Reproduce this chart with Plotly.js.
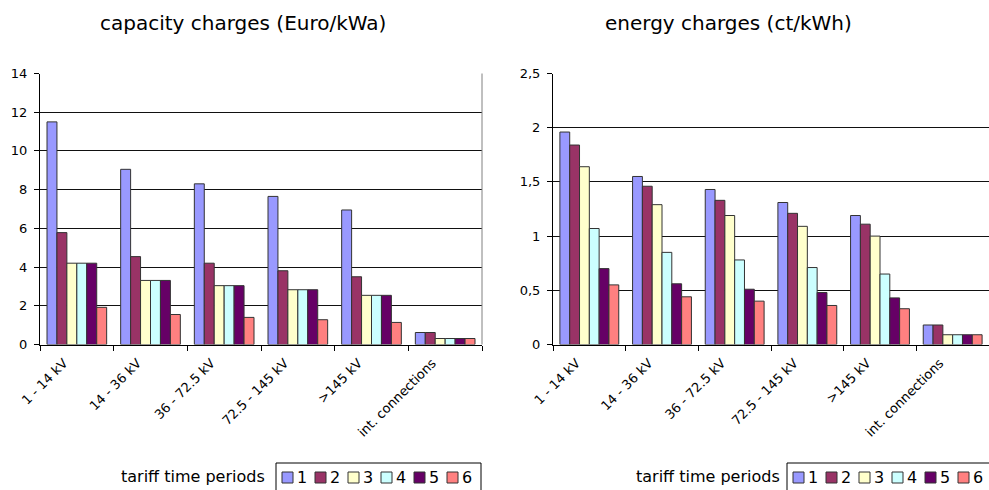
<!DOCTYPE html>
<html>
<head>
<meta charset="utf-8">
<script src="https://cdn.plot.ly/plotly-3.0.1.min.js"></script>
<style>
  html, body { margin: 0; padding: 0; background: #fff; }
  #chart { width: 989px; height: 490px; }
</style>
</head>
<body>
<div id="chart"></div>
<script>
// Voltage levels on the category axis
const categories = ['1 - 14 kV', '14 - 36 kV', '36 - 72.5 kV', '72.5 - 145 kV', '>145 kV', 'int. connections'];

// Tariff time periods (one bar series each)
const periods = ['1', '2', '3', '4', '5', '6'];
const periodColors = ['#9999FF', '#993366', '#FFFFCC', '#CCFFFF', '#660066', '#FF8080'];

// Capacity charges (Euro/kWa) per period, across voltage levels
const capacity1 = [11.5, 9.05, 8.3, 7.65, 6.95, 0.62];
const capacity2 = [5.78, 4.54, 4.2, 3.81, 3.5, 0.62];
const capacity3 = [4.2, 3.31, 3.04, 2.83, 2.54, 0.31];
const capacity4 = [4.2, 3.31, 3.04, 2.83, 2.54, 0.31];
const capacity5 = [4.2, 3.31, 3.04, 2.83, 2.54, 0.31];
const capacity6 = [1.92, 1.55, 1.4, 1.28, 1.14, 0.31];

// Energy charges (ct/kWh) per period, across voltage levels
const energy1 = [1.96, 1.55, 1.43, 1.31, 1.19, 0.18];
const energy2 = [1.84, 1.46, 1.33, 1.21, 1.11, 0.18];
const energy3 = [1.64, 1.29, 1.19, 1.09, 1.0, 0.09];
const energy4 = [1.07, 0.85, 0.78, 0.71, 0.65, 0.09];
const energy5 = [0.70, 0.56, 0.51, 0.48, 0.43, 0.09];
const energy6 = [0.55, 0.44, 0.40, 0.36, 0.33, 0.09];

const capacitySeries = [capacity1, capacity2, capacity3, capacity4, capacity5, capacity6];
const energySeries = [energy1, energy2, energy3, energy4, energy5, energy6];

// Page geometry helpers (pixels -> paper fractions)
const W = 989, H = 490;
const px = x => x / W;
const py = y => 1 - y / H;

const FONT = 'DejaVu Sans, Arial, sans-serif';

const traces = [];
periods.forEach((p, i) => {
  traces.push({
    type: 'bar', name: p, x: categories, y: capacitySeries[i],
    xaxis: 'x', yaxis: 'y', showlegend: false,
    marker: { color: periodColors[i], line: { color: '#333333', width: 1 } },
    hoverinfo: 'x+y+name'
  });
});
periods.forEach((p, i) => {
  traces.push({
    type: 'bar', name: p, x: categories, y: energySeries[i],
    xaxis: 'x2', yaxis: 'y2', showlegend: false,
    marker: { color: periodColors[i], line: { color: '#333333', width: 1 } },
    hoverinfo: 'x+y+name'
  });
});

const yDomain = [py(344.5), py(73.5)];

const xCommon = {
  type: 'category',
  showline: true, linecolor: '#000', linewidth: 1,
  ticks: 'outside', ticklen: 5, tickcolor: '#000', tickson: 'boundaries',
  tickangle: -45, ticklabelshift: -13, ticklabelstandoff: 5,
  tickfont: { family: FONT, size: 13, color: '#000' },
  showgrid: false, zeroline: false, fixedrange: true
};
const yCommon = {
  showline: true, linecolor: '#000', linewidth: 1,
  ticks: 'outside', ticklen: 5, tickcolor: '#000', ticklabelstandoff: 4,
  tickfont: { family: FONT, size: 13, color: '#000' },
  showgrid: true, gridcolor: '#111', gridwidth: 1,
  zeroline: false, fixedrange: true, domain: yDomain
};

const shapes = [];
const annotations = [];

// Right-hand border of the left plot area
shapes.push({
  type: 'line', xref: 'x domain', yref: 'y domain',
  x0: 1, x1: 1, y0: 0, y1: 1,
  line: { color: '#808080', width: 1 }
});

// Chart titles
annotations.push({
  text: 'capacity charges (Euro/kWa)', xref: 'paper', yref: 'paper',
  x: px(243), y: py(23), xanchor: 'center', yanchor: 'middle', showarrow: false,
  font: { family: FONT, size: 20, color: '#000' }
});
annotations.push({
  text: 'energy charges (ct/kWh)', xref: 'paper', yref: 'paper',
  x: px(728), y: py(23), xanchor: 'center', yanchor: 'middle', showarrow: false,
  font: { family: FONT, size: 20, color: '#000' }
});

// Legend boxes: caption, frame, swatches and period labels
function addLegend(captionRight, boxLeft, boxRight) {
  annotations.push({
    text: 'tariff time periods', xref: 'paper', yref: 'paper',
    x: px(captionRight), y: py(476), xanchor: 'right', yanchor: 'middle', showarrow: false,
    font: { family: FONT, size: 16, color: '#000' }
  });
  shapes.push({
    type: 'rect', xref: 'paper', yref: 'paper',
    x0: px(boxLeft), x1: px(boxRight), y0: py(463), y1: py(500),
    line: { color: '#000', width: 1 }, fillcolor: 'rgba(0,0,0,0)'
  });
  periods.forEach((p, i) => {
    const sx = boxLeft + 6 + i * 33;
    shapes.push({
      type: 'rect', xref: 'paper', yref: 'paper',
      x0: px(sx), x1: px(sx + 11), y0: py(483), y1: py(472),
      line: { color: '#333333', width: 1 }, fillcolor: periodColors[i]
    });
    annotations.push({
      text: p, xref: 'paper', yref: 'paper',
      x: px(sx + 13), y: py(477.5), xanchor: 'left', yanchor: 'middle', showarrow: false,
      font: { family: FONT, size: 16, color: '#000' }
    });
  });
}
addLegend(267, 276, 481);
addLegend(782, 787, 992);

const layout = {
  width: W, height: H,
  margin: { l: 0, r: 0, t: 0, b: 0 },
  paper_bgcolor: '#fff', plot_bgcolor: '#fff',
  separators: ',.',
  barmode: 'group', bargap: 0.19, bargroupgap: 0,
  showlegend: false,
  font: { family: FONT, color: '#000' },
  xaxis: Object.assign({}, xCommon, { domain: [px(40), px(482)], anchor: 'y' }),
  yaxis: Object.assign({}, yCommon, { range: [0, 14], dtick: 2, anchor: 'x' }),
  xaxis2: Object.assign({}, xCommon, { domain: [px(553), px(989)], anchor: 'y2' }),
  yaxis2: Object.assign({}, yCommon, { range: [0, 2.5], dtick: 0.5, anchor: 'x2' }),
  shapes: shapes,
  annotations: annotations
};

Plotly.newPlot('chart', traces, layout, { displayModeBar: false, staticPlot: true });
</script>
</body>
</html>
